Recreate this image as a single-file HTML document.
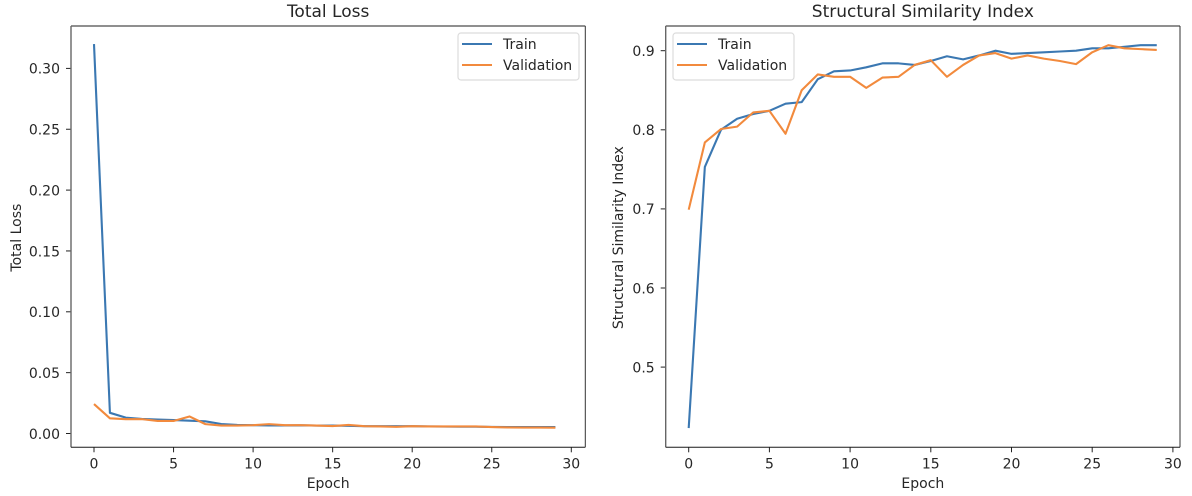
<!DOCTYPE html>
<html>
<head>
<meta charset="utf-8">
<style>
html,body{margin:0;padding:0;background:#fff;width:1192px;height:496px;overflow:hidden}
svg{display:block;font-family:"DejaVu Sans","Liberation Sans",sans-serif;fill:#262626}
#g{filter:url(#soft)}
</style>
</head>
<body>
<svg id="chart" width="1192" height="496" viewBox="0 0 1192 496" xmlns="http://www.w3.org/2000/svg">
<defs><filter id="soft" x="0" y="0" width="100%" height="100%"><feGaussianBlur stdDeviation="0.35"/></filter></defs>
<g id="g"></g>
</svg>
<script>
const epochs = [0,1,2,3,4,5,6,7,8,9,10,11,12,13,14,15,16,17,18,19,20,21,22,23,24,25,26,27,28,29];
const xTickValues = [0,5,10,15,20,25,30];
const lossTicks = [0,0.05,0.10,0.15,0.20,0.25,0.30];
const ssimTicks = [0.5,0.6,0.7,0.8,0.9];
const lossTrain = [0.32,0.017,0.013,0.012,0.0115,0.011,0.0105,0.010,0.0078,0.007,0.0068,0.0066,0.0066,0.0067,0.0065,0.0065,0.0063,0.006,0.006,0.006,0.006,0.0058,0.0057,0.0056,0.0056,0.0054,0.0053,0.0053,0.0053,0.0053];
const lossVal = [0.0242,0.0125,0.0118,0.0118,0.0103,0.0103,0.014,0.0077,0.0065,0.0065,0.0068,0.0077,0.0068,0.0068,0.0065,0.0061,0.007,0.006,0.0058,0.0055,0.006,0.0058,0.0058,0.0058,0.0058,0.0053,0.005,0.0049,0.0049,0.0048];
const ssimTrain = [0.423,0.753,0.80,0.814,0.82,0.824,0.833,0.835,0.864,0.874,0.875,0.879,0.884,0.884,0.882,0.887,0.893,0.889,0.894,0.90,0.896,0.897,0.898,0.899,0.90,0.903,0.903,0.905,0.907,0.907];
const ssimVal = [0.699,0.784,0.801,0.804,0.822,0.824,0.795,0.85,0.87,0.867,0.867,0.853,0.866,0.867,0.882,0.888,0.867,0.882,0.894,0.897,0.89,0.894,0.89,0.887,0.883,0.898,0.907,0.903,0.902,0.901];

const NS = 'http://www.w3.org/2000/svg';
const root = document.getElementById('g');
function make(parent, tag, attrs, text) {
  const el = document.createElementNS(NS, tag);
  for (const k in attrs) el.setAttribute(k, attrs[k]);
  if (text !== undefined) el.textContent = text;
  parent.appendChild(el);
  return el;
}
function panel(cfg) {
  const x = v => cfg.x0 + v * cfg.xs;
  const y = v => cfg.y0 - v * cfg.ys;
  const g = make(root, 'g', {});
  
  

  xTickValues.forEach(v => {
    const t = make(g, 'g', {});
    
    
    make(t, 'line', {x1:x(v), x2:x(v), y1:cfg.b, y2:cfg.b+5, stroke:'#222', 'stroke-width':1});
    make(t, 'text', {x:x(v), y:cfg.b+21, 'text-anchor':'middle', 'font-size':14}, String(v));
  });
  cfg.ticks.forEach(v => {
    const t = make(g, 'g', {});
    
    
    make(t, 'line', {x1:cfg.l-5, x2:cfg.l, y1:y(v), y2:y(v), stroke:'#222', 'stroke-width':1});
    make(t, 'text', {x:cfg.l-11, y:y(v)+5.3, 'text-anchor':'end', 'font-size':14}, v.toFixed(cfg.dec));
  });

  const series = [[cfg.train,'#3a78b2','train'],[cfg.val,'#f28a3c','validation']];
  series.forEach(s => {
    const p = make(g, 'polyline', {
      points: epochs.map((e,i) => x(e).toFixed(2) + ',' + y(s[0][i]).toFixed(2)).join(' '),
      fill:'none', stroke:s[1], 'stroke-width':2.1, 'stroke-linejoin':'round'
    });
    
    
  });

  const frame = make(g, 'g', {});
  
  
  make(frame, 'line', {x1:cfg.l, x2:cfg.r, y1:cfg.t, y2:cfg.t, stroke:'#6b6b6b', 'stroke-width':1.6});
  make(frame, 'line', {x1:cfg.l, x2:cfg.l, y1:cfg.t, y2:cfg.b, stroke:'#666', 'stroke-width':1.4});
  make(frame, 'line', {x1:cfg.r, x2:cfg.r, y1:cfg.t, y2:cfg.b, stroke:'#333', 'stroke-width':1});
  make(frame, 'line', {x1:cfg.l, x2:cfg.r, y1:cfg.b, y2:cfg.b, stroke:'#1a1a1a', 'stroke-width':1});

  const title = make(g, 'text', {x:(cfg.l+cfg.r)/2, y:17, 'text-anchor':'middle', 'font-size':17}, cfg.title);
  
  
  const xl = make(g, 'text', {x:(cfg.l+cfg.r)/2, y:488, 'text-anchor':'middle', 'font-size':14}, 'Epoch');
  
  
  const yl = make(g, 'text', {transform:'translate(' + cfg.yx + ',' + ((cfg.t+cfg.b)/2+1) + ') rotate(-90)', 'text-anchor':'middle', 'font-size':14}, cfg.title);
  
  

  const lg = make(g, 'g', {});
  
  
  make(lg, 'rect', {x:cfg.lx, y:33, width:121, height:47, rx:3, fill:'#fff', stroke:'#dcdcdc', 'stroke-width':1.2});
  const rows = [['Train','#3a78b2',44],['Validation','#f28a3c',65]];
  rows.forEach(r => {
    const e = make(lg, 'g', {});
    
    
    make(e, 'line', {x1:cfg.lx+4, x2:cfg.lx+34, y1:r[2], y2:r[2], stroke:r[1], 'stroke-width':2.1});
    make(e, 'text', {x:cfg.lx+45, y:r[2]+5, 'font-size':14}, r[0]);
  });
}
panel({name:'total-loss', title:'Total Loss', l:71, r:585.3, t:26, b:447.3, x0:94, xs:15.91, y0:433.5, ys:1217,
  ticks:lossTicks, dec:2, train:lossTrain, val:lossVal, yx:21, lx:458});
panel({name:'ssim', title:'Structural Similarity Index', l:665.7, r:1180, t:26, b:447.3, x0:688.7, xs:16.14, y0:762.6, ys:791,
  ticks:ssimTicks, dec:1, train:ssimTrain, val:ssimVal, yx:623, lx:673});
</script>
</body>
</html>
